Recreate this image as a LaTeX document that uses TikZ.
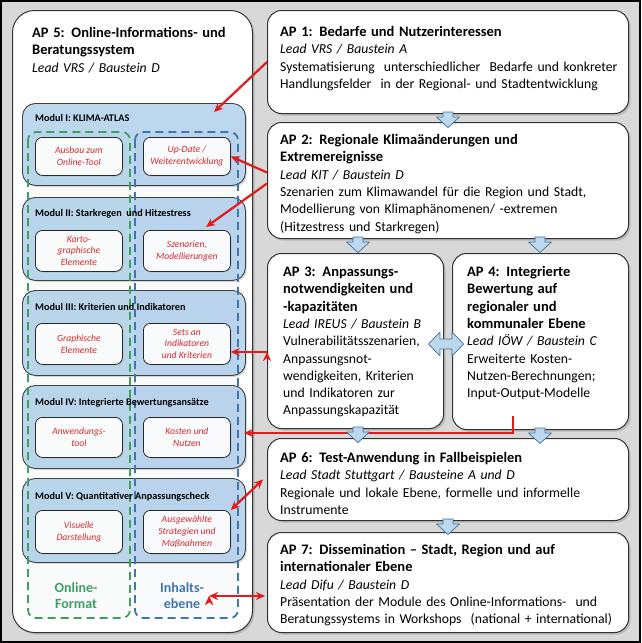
\documentclass[tikz,border=0pt]{standalone}
\usepackage{fontspec}
\setmainfont{Carlito}
\usepackage{tikz}
\usetikzlibrary{arrows,arrows.meta,shadows,positioning}
\usepackage{color}

\definecolor{bggray}{HTML}{D8D8D8}
\definecolor{modblue}{HTML}{BDD7EE}
\definecolor{arrowblue}{HTML}{41719C}
\definecolor{linkred}{HTML}{E31A1C}
\definecolor{txtred}{HTML}{E0262B}
\definecolor{colgreen}{HTML}{3F9F63}
\definecolor{colblue}{HTML}{3F76AE}

\newcommand{\aptitle}[1]{{\fontsize{14.5}{17.3}\selectfont\bfseries #1}}

\begin{document}
\begin{tikzpicture}[x=1pt,y=-1pt,
  ap node/.style={draw=black!80,fill=white,rounded corners=14pt,line width=1pt,
    anchor=north west,inner sep=0pt,
    drop shadow={shadow xshift=2pt,shadow yshift=-2pt,opacity=0.35}},
  ap text/.style={anchor=base west,inner sep=0pt,text width=#1,align=left,
    font=\fontsize{13.7}{17.3}\selectfont},
  modul node/.style={draw=black!75,fill=modblue,rounded corners=13pt,line width=0.9pt,
    anchor=north west,minimum width=223pt,minimum height=#1,inner sep=0pt,
    drop shadow={shadow xshift=1.5pt,shadow yshift=-1.5pt,opacity=0.3}},
  modul title/.style={anchor=base west,inner sep=0pt,font=\fontsize{10.2}{12}\selectfont\bfseries},
  inner node/.style={draw=black!85,fill=white,rounded corners=7pt,line width=0.8pt,
    anchor=north west,minimum width=87pt,minimum height=#1,inner sep=1pt,align=center,
    text=txtred,font=\fontsize{9.6}{11.8}\selectfont\itshape,
    drop shadow={shadow xshift=1pt,shadow yshift=-1pt,opacity=0.25}},
  column box/.style={draw=#1,dash pattern=on 8pt off 5pt,line width=1.8pt,
    rounded corners=8pt,fill=#1,fill opacity=0.035},
  column label/.style={align=center,inner sep=2pt,
    font=\fontsize{14}{16}\selectfont\bfseries},
  link/.style={->,>={Stealth[length=9pt,width=8pt]},line width=2.2pt,draw=linkred},
  flow arrow/.style={draw=arrowblue,fill=modblue,line width=0.7pt,line join=round},
  down flow/.pic={\path[flow arrow] (-5,0) -- (5,0) -- (5,5) -- (11.5,5) -- (0,15.5)
    -- (-11.5,5) -- (-5,5) -- cycle;},
  both flow/.pic={\path[flow arrow] (-17.5,0) -- (-6,-12) -- (-6,-5) -- (6,-5) -- (6,-12)
    -- (17.5,0) -- (6,12) -- (6,5) -- (-6,5) -- (-6,12) -- cycle;}]

  \useasboundingbox (0,0) rectangle (641,643);
  \fill[bggray] (0,0) rectangle (641,643);
  \draw[black,line width=1.5pt] (1,1) rectangle (640,642);

  % AP 5 with its modules
  \node[ap node,minimum width=240pt,minimum height=622pt,rounded corners=22pt] (ap5) at (12,10) {};
  \node[ap text=225pt] (ap5t) at (32,37.5)
    {\aptitle{AP 5: Online-Informations- und\\Beratungssystem}\\\textit{Lead VRS / Baustein D}};

  \node[modul node=82pt] (m1) at (22,103) {};
  \node[modul node=83pt] (m2) at (22,197) {};
  \node[modul node=85pt] (m3) at (22,290) {};
  \node[modul node=83pt] (m4) at (22,385) {};
  \node[modul node=84pt] (m5) at (22,478) {};

  \node[inner node=38pt] (m1l) at (35,137) {Ausbau zum\\Online-Tool};
  \node[inner node=38pt] (m1r) at (143,137) {Up-Date /\\Weiterentwicklung};
  \node[inner node=41pt] (m2l) at (35,230) {Karto-\\graphische\\Elemente};
  \node[inner node=41pt] (m2r) at (143,230) {Szenarien,\\Modellierungen};
  \node[inner node=41pt] (m3l) at (35,323) {Graphische\\Elemente};
  \node[inner node=41pt] (m3r) at (143,323) {Sets an\\Indikatoren\\und Kriterien};
  \node[inner node=40pt] (m4l) at (35,417) {Anwendungs-\\tool};
  \node[inner node=40pt] (m4r) at (143,417) {Kosten und\\Nutzen};
  \node[inner node=43pt] (m5l) at (35,510) {Visuelle\\Darstellung};
  \node[inner node=43pt] (m5r) at (143,510) {Ausgewählte\\Strategien und\\Maßnahmen};

  % columns: format and content
  \path[column box=colgreen] (28,132) rectangle (130,618);
  \path[column box=colblue] (135,132) rectangle (238,618);

  \node[modul title] (m1t) at (35,121.5) {Modul I: KLIMA-ATLAS};
  \node[modul title] (m2t) at (35,216.5) {Modul II: Starkregen\ \ und Hitzestress};
  \node[modul title] (m3t) at (35,310.5) {Modul III: Kriterien und Indikatoren};
  \node[modul title] (m4t) at (35,405.5) {Modul IV: Integrierte Bewertungsansätze};
  \node[modul title] (m5t) at (35,499.5) {Modul V: Quantitativer Anpassungscheck};

  \node[column label,text=colgreen] (online) at (76,596) {Online-\\Format};
  \node[column label,text=colblue] (inhalt) at (182,596) {Inhalts-\\ebene};

  % work packages
  \node[ap node,minimum width=361pt,minimum height=103pt] (ap1) at (267,10) {};
  \node[ap node,minimum width=361pt,minimum height=116pt] (ap2) at (267,122) {};
  \node[ap node,minimum width=176pt,minimum height=175pt] (ap3) at (267,253) {};
  \node[ap node,minimum width=176pt,minimum height=176pt] (ap4) at (452,253) {};
  \node[ap node,minimum width=361pt,minimum height=82pt] (ap6) at (267,438) {};
  \node[ap node,minimum width=361pt,minimum height=100pt] (ap7) at (267,532) {};

  \node[ap text=370pt] (ap1t) at (280,36.5)
    {\aptitle{AP 1: Bedarfe und Nutzerinteressen}\\\textit{Lead VRS / Baustein A}\\
     Systematisierung\ \ unterschiedlicher\ \ Bedarfe und konkreter\\
     Handlungsfelder\ \ in der Regional- und Stadtentwicklung};
  \node[ap text=370pt] (ap2t) at (280,144.5)
    {\aptitle{AP 2: Regionale Klimaänderungen und\\Extremereignisse}\\\textit{Lead KIT / Baustein D}\\
     Szenarien zum Klimawandel für die Region und Stadt,\\
     Modellierung von Klimaphänomenen/ -extremen\\(Hitzestress und Starkregen)};
  \node[ap text=175pt] (ap3t) at (283,276.5)
    {\aptitle{AP 3: Anpassungs-\\notwendigkeiten und\\-kapazitäten}\\\textit{Lead IREUS / Baustein B}\\
     Vulnerabilitätsszenarien,\\Anpassungsnot-\\wendigkeiten, Kriterien\\
     und Indikatoren zur\\Anpassungskapazität};
  \node[ap text=175pt] (ap4t) at (467,276.5)
    {\aptitle{AP 4: Integrierte\\Bewertung auf\\regionaler und\\kommunaler Ebene}\\
     \textit{Lead IÖW / Baustein C}\\Erweiterte Kosten-\\Nutzen-Berechnungen;\\Input-Output-Modelle};
  \node[ap text=370pt] (ap6t) at (280,462.5)
    {\aptitle{AP 6: Test-Anwendung in Fallbeispielen}\\\textit{Lead Stadt Stuttgart / Bausteine A und D}\\
     Regionale und lokale Ebene, formelle und informelle\\Instrumente};
  \node[ap text=370pt] (ap7t) at (280,554.5)
    {\aptitle{AP 7: Dissemination – Stadt, Region und auf\\internationaler Ebene}\\
     \textit{Lead Difu / Baustein D}\\
     Präsentation der Module des Online-Informations-\ \ und\\
     Beratungssystems in Workshops\ \ (national + international)};

  % links to the modules
  \coordinate (m1tip) at (214,112);
  \coordinate (m2tip) at (206,227);
  \coordinate (l3) at (267,352);
  \coordinate (l5) at (513,416);
  \coordinate (m4tip) at (244,433);

  \path[link]
    (ap1.west) edge (m1tip)
    ([yshift=8pt]ap2.west) edge (m1r.east)
    ([yshift=-3pt]ap2.west) edge (m2tip)
    (l3) edge (m3r.east |- l3);
  \draw[link] (l5) |- (m4tip);
  \path[link,<->]
    ([xshift=-4pt]ap6.west) edge (m5r.north east)
    ([xshift=3pt]inhalt.east) edge ([xshift=-2pt]inhalt.east -| ap7.west);

  % flow between work packages
  \pic at (448,112) {down flow};
  \pic at (358,237) {down flow};
  \pic at (540,237) {down flow};
  \pic at (358,427) {down flow};
  \pic at (540,428) {down flow};
  \pic at (448,519) {down flow};
  \pic at (446,344) {both flow};
\end{tikzpicture}
\end{document}
